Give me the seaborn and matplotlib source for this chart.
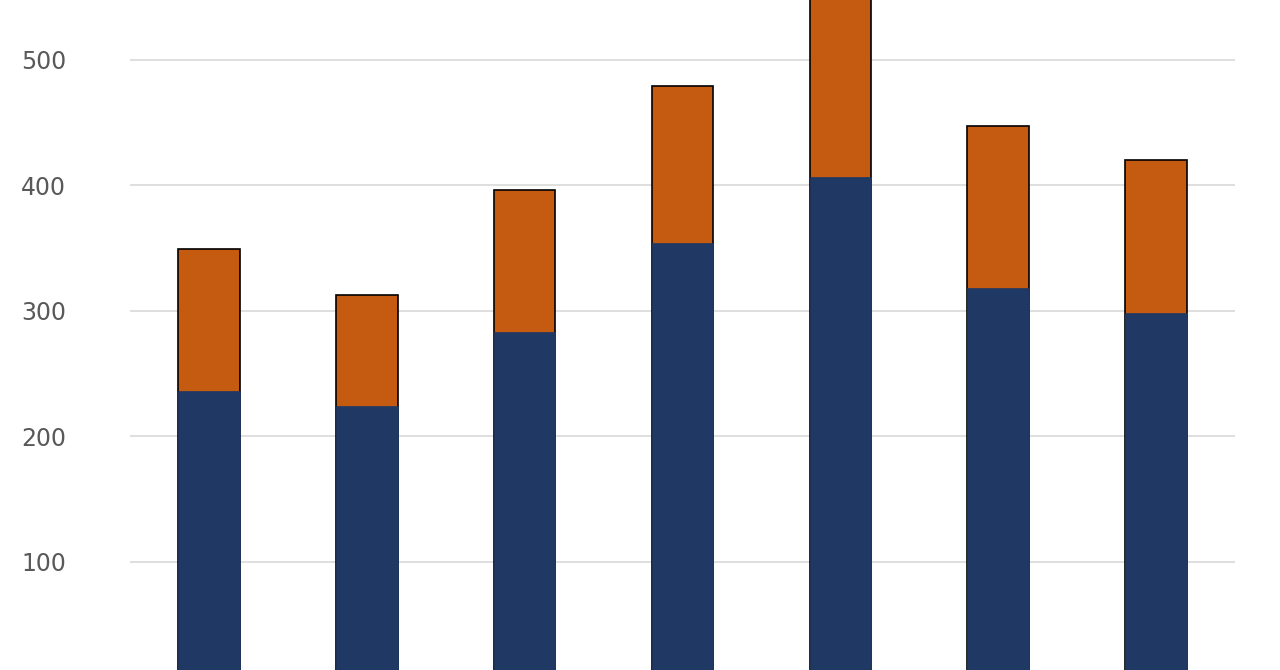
import matplotlib
matplotlib.use("Agg")
import matplotlib.pyplot as plt
import seaborn as sns
import pandas as pd

# values
categories = ["A", "B", "C", "D", "E", "F", "G"]
lower = [236, 224, 283, 354, 407, 318, 298]
upper = [113, 89, 113, 125, 155, 129, 122]
totals = [l + u for l, u in zip(lower, upper)]

df = pd.DataFrame({"cat": categories, "lower": lower, "total": totals})

sns.set_style("white")
fig = plt.figure(figsize=(12.8, 6.7), dpi=100)
ax = fig.add_axes([130 / 1280, -0.026, 1105 / 1280, 1.026])

sns.barplot(data=df, x="cat", y="total", color="#c55a11", edgecolor="black",
            linewidth=1.2, width=0.39, saturation=1, ax=ax, zorder=3)
sns.barplot(data=df, x="cat", y="lower", color="#1f3864", edgecolor="#1f3864",
            linewidth=0.5, width=0.39, saturation=1, ax=ax, zorder=4)

ax.set_xlim(-0.5, 6.5)
ax.set_ylim(0, 547.8)
ax.set_yticks([100, 200, 300, 400, 500])
ax.yaxis.grid(True, color="#d9d9d9", linewidth=1.2, zorder=0)
ax.set_axisbelow(True)
ax.set_xlabel("")
ax.set_ylabel("")
ax.set_xticks([])
for s in ax.spines.values():
    s.set_visible(False)
ax.tick_params(axis="y", length=0, labelsize=17, labelcolor="#595959", pad=46)

fig.savefig("out.png", dpi=100)
